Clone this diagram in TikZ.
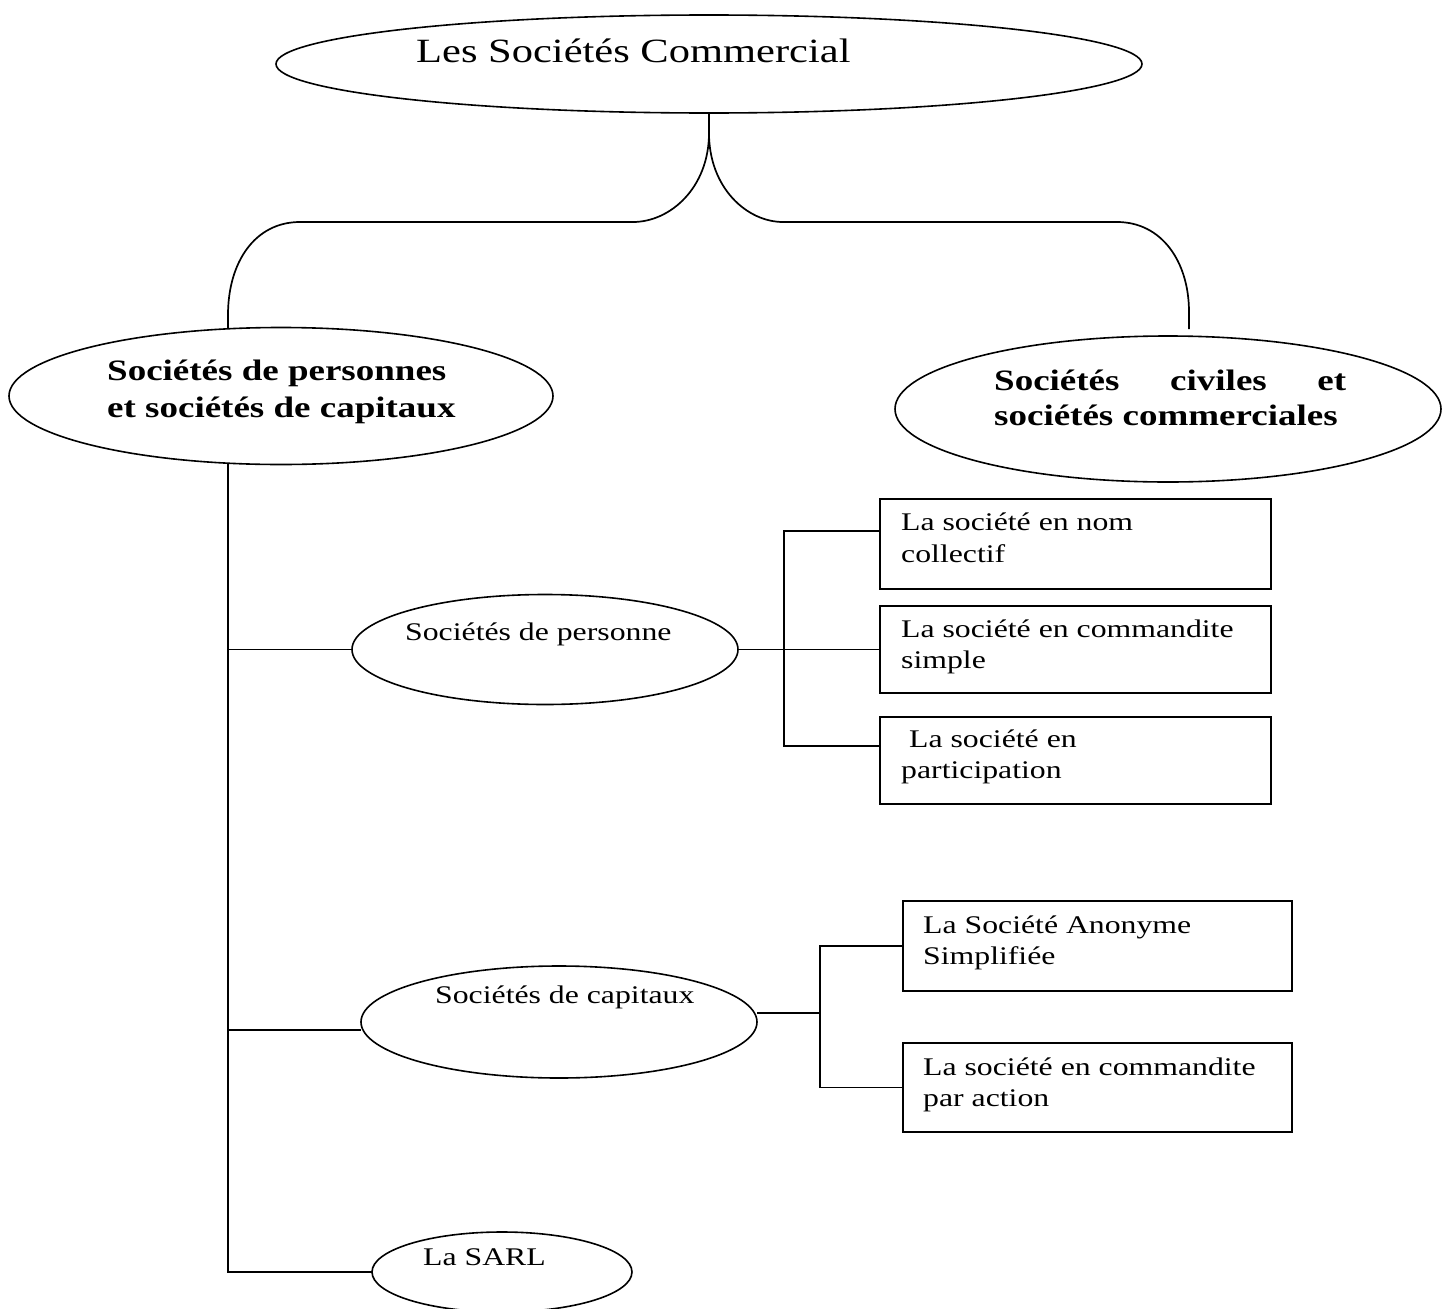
\documentclass[tikz,border=0pt]{standalone}
\usepackage{fontspec}
\setmainfont{Liberation Serif}[FakeStretch=1.25]
\usetikzlibrary{shapes.geometric,backgrounds}
\tikzset{
  ell/.style={draw, ellipse, fill=white, inner sep=0pt, outer sep=0pt, line width=1.6pt},
  boxnode/.style={draw, rectangle, fill=white, inner sep=0pt, outer sep=0pt, line width=1.6pt},
  txt/.style={anchor=base west, inner sep=0pt, font=\fontsize{25.4}{30}\selectfont},
  ttl/.style={anchor=base west, inner sep=0pt, font=\fontsize{34}{40}\selectfont},
  btxt/.style={anchor=base west, inner sep=0pt, font=\fontsize{29.6}{35}\selectfont\bfseries},
  conn/.style={line width=1.7pt}
}
\begin{document}
\begin{tikzpicture}[x=1pt,y=-1pt]
\useasboundingbox (0,0) rectangle (1449,1309);
% ellipses
\node[ell, minimum width=866pt, minimum height=98pt] (top) at (709,64) {};
\node[ell, minimum width=544pt, minimum height=137pt] (lft) at (281,396) {};
\node[ell, minimum width=546pt, minimum height=146pt] (rgt) at (1168,409) {};
\node[ell, minimum width=386pt, minimum height=110pt] (pers) at (545,649.5) {};
\node[ell, minimum width=396pt, minimum height=112pt] (cap) at (559,1022) {};
\node[ell, minimum width=260pt, minimum height=80pt] (sarl) at (502,1272) {};
% boxes
\node[boxnode, minimum width=391pt, minimum height=90pt] (b1) at (1075.5,544) {};
\node[boxnode, minimum width=391pt, minimum height=87pt] (b2) at (1075.5,649.5) {};
\node[boxnode, minimum width=391pt, minimum height=87pt] (b3) at (1075.5,760.5) {};
\node[boxnode, minimum width=389pt, minimum height=90pt] (b4) at (1097.5,946) {};
\node[boxnode, minimum width=389pt, minimum height=89pt] (b5) at (1097.5,1087.5) {};
% texts
\node[ttl] (tTop) at (416,62) {Les Sociétés Commercial};
\node[btxt] (tL1) at (107,380) {Sociétés de personnes};
\node[btxt] (tL2) at (107,417) {et sociétés de capitaux};
\node[btxt] (tR1) at (994,390) {\hbox to 352pt{Sociétés\hfill civiles\hfill et}};
\node[btxt] (tR2) at (994,425) {sociétés commerciales};
\node[txt] (tPers) at (405,640) {Sociétés de personne};
\node[txt] (tCap) at (435,1003) {Sociétés de capitaux};
\node[txt] (tSarl) at (423,1265) {La SARL};
\node[txt] (tb1a) at (901,530) {La société en nom};
\node[txt] (tb1b) at (901,562) {collectif};
\node[txt] (tb2a) at (901,637) {La société en commandite};
\node[txt] (tb2b) at (901,668) {simple};
\node[txt] (tb3a) at (909,747) {La société en};
\node[txt] (tb3b) at (901,778) {participation};
\node[txt] (tb4a) at (923,933) {La Société Anonyme};
\node[txt] (tb4b) at (923,964) {Simplifiée};
\node[txt] (tb5a) at (923,1075) {La société en commandite};
\node[txt] (tb5b) at (923,1106) {par action};
% coordinates
\coordinate (cL) at (228,332);
\coordinate (cR) at (1189,329);
\coordinate (tr0) at (228,462);
\coordinate (tr1) at (228,649.5);
\coordinate (tr2) at (228,1030);
\coordinate (tr3) at (228,1272);
\coordinate (j1) at (784,531);
\coordinate (j2) at (784,649.5);
\coordinate (j3) at (784,746);
\coordinate (k1) at (820,946);
\coordinate (k2) at (820,1013);
\coordinate (k3) at (820,1087.5);
\begin{scope}[on background layer]
  \draw[conn] (top.south) -- ++(0,20) .. controls +(0,55) and (670,222) .. (633,222)
     -- (300,222) .. controls (255,222) and (228,262) .. (228,315) -- (cL);
  \draw[conn] (top.south) -- ++(0,20) .. controls +(0,55) and (747,222) .. (783,222)
     -- (1117,222) .. controls (1162,222) and (1189,262) .. (1189,312) -- (cR);
  \draw[conn] (tr0) -- (tr3) -- (sarl.west);
  \draw[conn] (tr1) -- (pers.west);
  \draw[conn] (tr2) -- (tr2 -| cap.west);
  \draw[conn] (pers.east) -- (b2.west);
  \draw[conn] (j1 -| b1.west) -- (j1) -- (j3) -- (j3 -| b3.west);
  \draw[conn] (cap.east |- k2) -- (k2);
  \draw[conn] (b4.west) -- (k1) -- (k3) -- (b5.west);
\end{scope}
\end{tikzpicture}
\end{document}
